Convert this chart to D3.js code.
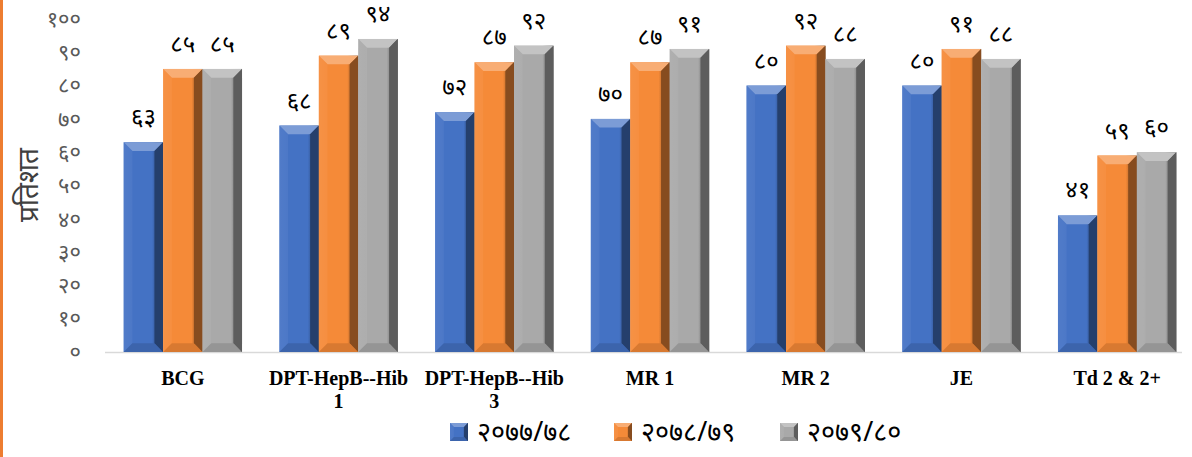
<!DOCTYPE html>
<html><head><meta charset="utf-8">
<script src="https://cdn.jsdelivr.net/npm/d3@7"></script>
<style>body{margin:0;background:#fff;}svg{display:block;}</style>
</head><body><svg id="c" width="1192" height="457"></svg>
<script>
const categories = ["BCG", "DPT-HepB--Hib 1", "DPT-HepB--Hib 3", "MR 1", "MR 2", "JE", "Td 2 & 2+"];
const seriesNames = ["२०७७/७८", "२०७८/७९", "२०७९/८०"];
const s1 = [63, 68, 72, 70, 80, 80, 41];
const s2 = [85, 89, 87, 87, 92, 91, 59];
const s3 = [85, 94, 92, 91, 88, 88, 60];
const yTicks = [0, 10, 20, 30, 40, 50, 60, 70, 80, 90, 100];
const yTitle = "प्रतिशत";
const colors = ["#4472C4", "#F58A38", "#A9A9A9"];

const dev = n => String(n).replace(/[0-9]/g, d => "०१२३४५६७८९"[+d]);
const series = [s1, s2, s3];
const svg = d3.select("#c");
const devFont = "'Noto Sans', 'DejaVu Sans', sans-serif";

// left orange border
svg.append("rect").attr("x", 0).attr("y", 0).attr("width", 3).attr("height", 457).attr("fill", "#ED7D31");

const x = d3.scaleBand().domain(categories).range([105, 1195]).paddingInner(0.24).paddingOuter(0.12);
const xs = d3.scaleBand().domain([0, 1, 2]).range([0, x.bandwidth()]);
const y = d3.scaleLinear().domain([0, 100]).range([352, 19]);

// y tick labels
svg.append("g").selectAll("text").data(yTicks).join("text")
  .attr("x", 81).attr("y", d => y(d)).attr("dy", "0.35em")
  .attr("text-anchor", "end").attr("font-family", devFont).attr("font-size", 22)
  .attr("fill", "#595959").text(d => dev(d));

svg.append("text").attr("transform", "translate(38,185) rotate(-90)")
  .attr("text-anchor", "middle").attr("font-family", devFont).attr("font-size", 28)
  .attr("fill", "#404040").text(yTitle);

// baseline
svg.append("line").attr("x1", 105).attr("x2", 1182).attr("y1", 352.5).attr("y2", 352.5)
  .attr("stroke", "#D9D9D9").attr("stroke-width", 1.5);

function shade(c, k) { return k > 0 ? d3.interpolateRgb(c, "#fff")(k) : d3.interpolateRgb(c, "#000")(-k); }

const defs = svg.append("defs");
colors.forEach((c, i) => {
  const g = defs.append("linearGradient").attr("id", "g" + i).attr("x1", 0).attr("x2", 1).attr("y1", 0).attr("y2", 0);
  g.append("stop").attr("offset", 0).attr("stop-color", shade(c, 0.05));
  g.append("stop").attr("offset", 0.2).attr("stop-color", c);
  g.append("stop").attr("offset", 0.72).attr("stop-color", c);
  g.append("stop").attr("offset", 0.85).attr("stop-color", shade(c, -0.3));
  g.append("stop").attr("offset", 1).attr("stop-color", shade(c, -0.55));
});

function bevelBar(g, x0, w, yTop, yBot, i) {
  const c = colors[i], b = Math.min(9, w * 0.22);
  g.append("rect").attr("x", x0).attr("y", yTop).attr("width", w).attr("height", yBot - yTop).attr("fill", `url(#g${i})`);
  // top bevel
  g.append("path").attr("d", `M${x0},${yTop}L${x0 + w},${yTop}L${x0 + w - b},${yTop + b}L${x0 + b},${yTop + b}Z`).attr("fill", shade(c, 0.3));
  // left bevel
  g.append("path").attr("d", `M${x0},${yTop}L${x0 + b},${yTop + b}L${x0 + b},${yBot - b}L${x0},${yBot}Z`).attr("fill", shade(c, 0.08)).attr("opacity", 0.6);
  // right bevel
  g.append("path").attr("d", `M${x0 + w},${yTop}L${x0 + w - b},${yTop + b}L${x0 + w - b},${yBot - b}L${x0 + w},${yBot}Z`).attr("fill", shade(c, -0.45));
  // bottom bevel
  g.append("path").attr("d", `M${x0},${yBot}L${x0 + b},${yBot - b}L${x0 + w - b},${yBot - b}L${x0 + w},${yBot}Z`).attr("fill", shade(c, -0.12));
}

const bars = svg.append("g");
categories.forEach((cat, ci) => {
  series.forEach((s, si) => {
    const x0 = x(cat) + xs(si), w = xs.bandwidth();
    bevelBar(bars, x0, w, y(s[ci]), y(0), si);
    bars.append("text").attr("x", x0 + w / 2).attr("y", y(s[ci]) - 17)
      .attr("text-anchor", "middle").attr("font-family", devFont).attr("font-size", 24)
      .attr("fill", "#000").text(dev(s[ci]));
  });
});

// x labels
const xl = svg.append("g");
categories.forEach(cat => {
  const cx = x(cat) + x.bandwidth() / 2;
  const m = cat.match(/^(DPT-HepB--Hib) (\d)$/);
  const lines = m ? [m[1], m[2]] : [cat];
  const t = xl.append("text").attr("text-anchor", "middle")
    .attr("font-family", "'Liberation Serif', 'Times New Roman', serif").attr("font-weight", "bold")
    .attr("font-size", 20).attr("fill", "#000");
  lines.forEach((l, li) => t.append("tspan").attr("x", cx).attr("y", 385 + li * 23).text(l));
});

// legend
const legX = [450, 614, 780];
seriesNames.forEach((n, i) => {
  bevelBar(svg, legX[i], 18, 423, 441, i);
  svg.append("text").attr("x", legX[i] + 27).attr("y", 432).attr("dy", "0.35em")
    .attr("font-family", devFont).attr("font-size", 27).attr("fill", "#000").text(n);
});
</script></body></html>
